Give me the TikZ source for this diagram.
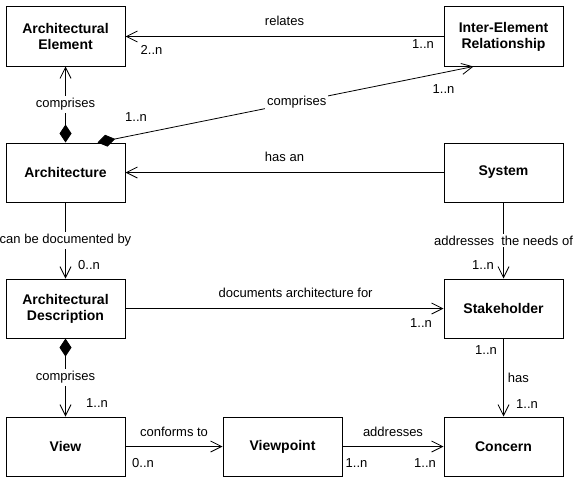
\documentclass[tikz,border=0pt]{standalone}
\usepackage{fontspec}
\setmainfont{Liberation Sans}
\usetikzlibrary{arrows.meta}

\begin{document}
\begin{tikzpicture}[
    x=1pt, y=-1pt,
    block/.style={draw, line width=1pt, minimum width=119pt, minimum height=59pt,
      align=center, inner sep=2pt, font=\fontsize{14}{16}\selectfont\bfseries},
    assoc/.style={line width=0.8pt, -{Straight Barb[length=11pt,width=11pt]}},
    compose/.style={line width=0.8pt,
      {Diamond[length=18pt,width=12pt]}-{Straight Barb[length=11pt,width=11pt]}},
    mult/.style={inner sep=0pt, font=\fontsize{13}{15}\selectfont},
    rolename/.style={inner sep=2pt, fill=white, font=\fontsize{13}{15}\selectfont}
  ]

  \useasboundingbox (0,0) rectangle (585,487);

  % classes
  \node[block] (elem)  at (65.5,36.5)   {Architectural\\Element};
  \node[block] (rel)   at (503.5,36.5)  {Inter-Element\\Relationship};
  \node[block] (arch)  at (65.5,172.5)  {Architecture};
  \node[block] (sys)   at (503.5,172.5) {System};
  \node[block] (desc)  at (65.5,308.5)  {Architectural\\Description};
  \node[block] (stake) at (503.5,308.5) {Stakeholder};
  \node[block] (view)  at (65.5,446.5)  {View};
  \node[block] (vp)    at (282.5,446.5) {Viewpoint};
  \node[block] (con)   at (503.5,446.5) {Concern};

  % associations
  \draw[assoc] (rel.west) -- (elem.east)
    node[mult, midway, yshift=16pt] {relates}
    node[mult] at ([shift={(26,13.5)}]elem.east) {2..n}
    node[mult] at ([shift={(-20.5,7.5)}]rel.west) {1..n};

  \draw[compose] (arch.north) -- (elem.south)
    node[rolename, midway] {comprises};

  \draw[compose] ([xshift=32pt]arch.north) -- ([xshift=-30pt]rel.south)
    node[rolename, pos=0.53] {comprises}
    node[mult] at ([shift={(70.5,-25)}]arch.north) {1..n}
    node[mult] at ([shift={(-60,23)}]rel.south) {1..n};

  \draw[assoc] (sys.west) -- (arch.east)
    node[mult, midway, yshift=15.5pt] {has an};

  \draw[assoc] (arch.south) -- (desc.north)
    node[rolename, midway] {can be documented by}
    node[mult] at ([shift={(23.5,-13)}]desc.north) {0..n};

  \draw[assoc] (sys.south) -- (stake.north)
    node[rolename, midway] {addresses\ \ the needs of}
    node[mult] at ([shift={(-20.5,-13)}]stake.north) {1..n};

  \draw[assoc] (desc.east) -- (stake.west)
    node[mult, pos=0.535, yshift=16pt] {documents architecture for}
    node[mult] at ([shift={(-22.5,15)}]stake.west) {1..n};

  \draw[compose] (desc.south) -- (view.north)
    node[rolename, midway] {comprises}
    node[mult] at ([shift={(31.5,-13)}]view.north) {1..n};

  \draw[assoc] (stake.south) -- (con.north)
    node[mult, midway, right=4pt] {has}
    node[mult] at ([shift={(-17.5,12)}]stake.south) {1..n}
    node[mult] at ([shift={(23.5,-12)}]con.north) {1..n};

  \draw[assoc] (view.east) -- (vp.west)
    node[mult, midway, yshift=14.5pt] {conforms to}
    node[mult] at ([shift={(17.5,16.5)}]view.east) {0..n};

  \draw[assoc] (vp.east) -- (con.west)
    node[mult, midway, yshift=14.5pt] {addresses}
    node[mult] at ([shift={(14,16.5)}]vp.east) {1..n}
    node[mult] at ([shift={(-18.5,16.5)}]con.west) {1..n};

\end{tikzpicture}
\end{document}
